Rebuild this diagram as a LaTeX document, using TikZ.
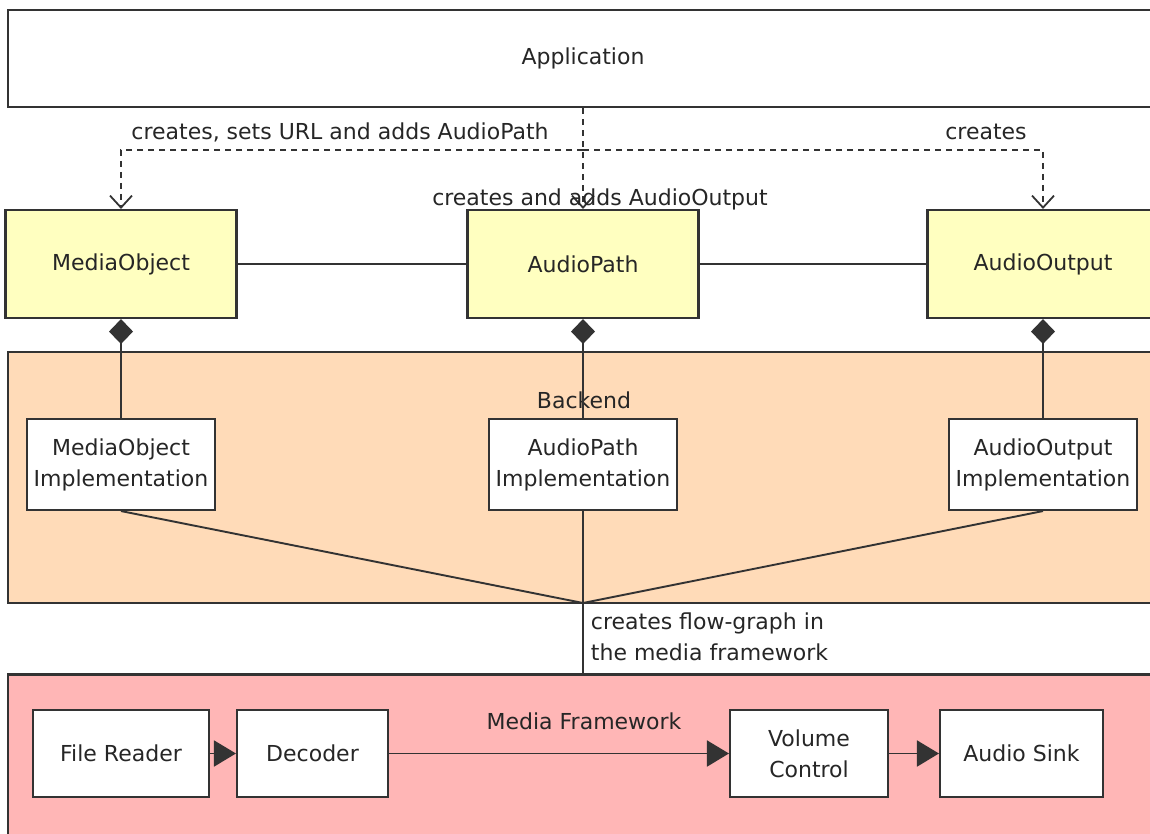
\documentclass[tikz,border=0pt]{standalone}
\usepackage{fontspec}
\setmainfont{DejaVu Sans}
\usetikzlibrary{arrows.meta}
\definecolor{classyellow}{HTML}{FFFFC0}
\definecolor{backendpeach}{HTML}{FFDBB8}
\definecolor{mfpink}{HTML}{FFB6B6}
\begin{document}
\begin{tikzpicture}[x=1pt,y=-1pt,line width=1.9pt,color=black!80]
    \tikzstyle{every node}=[font=\fontsize{22}{31}\selectfont,text=black!85,inner sep=0pt];
    \tikzstyle{box}=[draw,fill=white,line width=2.1pt,align=center];
    \tikzstyle{region}=[box,minimum width=1150pt];
    \tikzstyle{class}=[box,fill=classyellow,minimum width=231pt,minimum height=108pt];
    \tikzstyle{impl}=[box,minimum width=188pt,minimum height=91pt];
    \tikzstyle{element}=[box,minimum height=87pt];
    \tikzstyle{uses}=[dash pattern=on 6pt off 5pt,-{Straight Barb[length=12pt,width=22pt,line width=1.8pt]}];
    \tikzstyle{owns}=[-{Diamond[length=25pt,width=24pt]}];
    \tikzstyle{flow}=[-{Triangle[length=22pt,width=26pt]}];
    \useasboundingbox (0,0) rectangle (1150,834);

    % layers
    \node at (583, 58.5) (app) [region,minimum height=97pt] {Application};
    \node at (583, 477.5) (backend) [region,fill=backendpeach,minimum height=251pt] {};
    \node at (583, 762) (mf) [region,fill=mfpink,minimum height=175pt] {};
    \node at (584, 400) (backendlbl) {Backend};
    \node at (584, 721) (mflbl) {Media Framework};

    % frontend classes
    \node at (121, 264) (mo) [class] {MediaObject};
    \node at (583, 264) (ap) [class] {AudioPath};
    \node at (1043, 264) (ao) [class] {AudioOutput};

    % backend objects
    \node at (121, 464.5) (moimpl) [impl] {MediaObject\\Implementation};
    \node at (583, 464.5) (apimpl) [impl] {AudioPath\\Implementation};
    \node at (1043, 464.5) (aoimpl) [impl] {AudioOutput\\Implementation};

    % media framework elements
    \node at (121, 753.5) (reader) [element,minimum width=176pt] {File Reader};
    \node at (312.5, 753.5) (decoder) [element,minimum width=151pt] {Decoder};
    \node at (809, 753.5) (volume) [element,minimum width=158pt] {Volume\\Control};
    \node at (1021.5, 753.5) (sink) [element,minimum width=163pt] {Audio Sink};

    \coordinate (split) at (583, 150);
    \coordinate (hub) at (583, 603);

    \draw [uses] (app.south) -- (ap.north);
    \draw [uses] (split) -| (mo.north);
    \draw [uses] (split) -| (ao.north);
    \node at (340, 132) (createlbl) {creates, sets URL and adds AudioPath};
    \node at (986, 132) (createslbl) {creates};
    \node at (600, 199) (addlbl) {creates and adds AudioOutput};

    \draw (mo) -- (ap);
    \draw (ap) -- (ao);
    \draw [owns] (moimpl) -- (mo);
    \draw [owns] (apimpl) -- (ap);
    \draw [owns] (aoimpl) -- (ao);

    \draw (moimpl.south) -- (hub);
    \draw (aoimpl.south) -- (hub);
    \draw (apimpl.south) -- (mf.north);
    \node at (590, 637) (graphlbl) [anchor=west,align=left] {creates flow-graph in\\the media framework};

    \draw [flow] (reader) -- (decoder);
    \draw [flow] (decoder) -- (volume);
    \draw [flow] (volume) -- (sink);
\end{tikzpicture}
\end{document}
